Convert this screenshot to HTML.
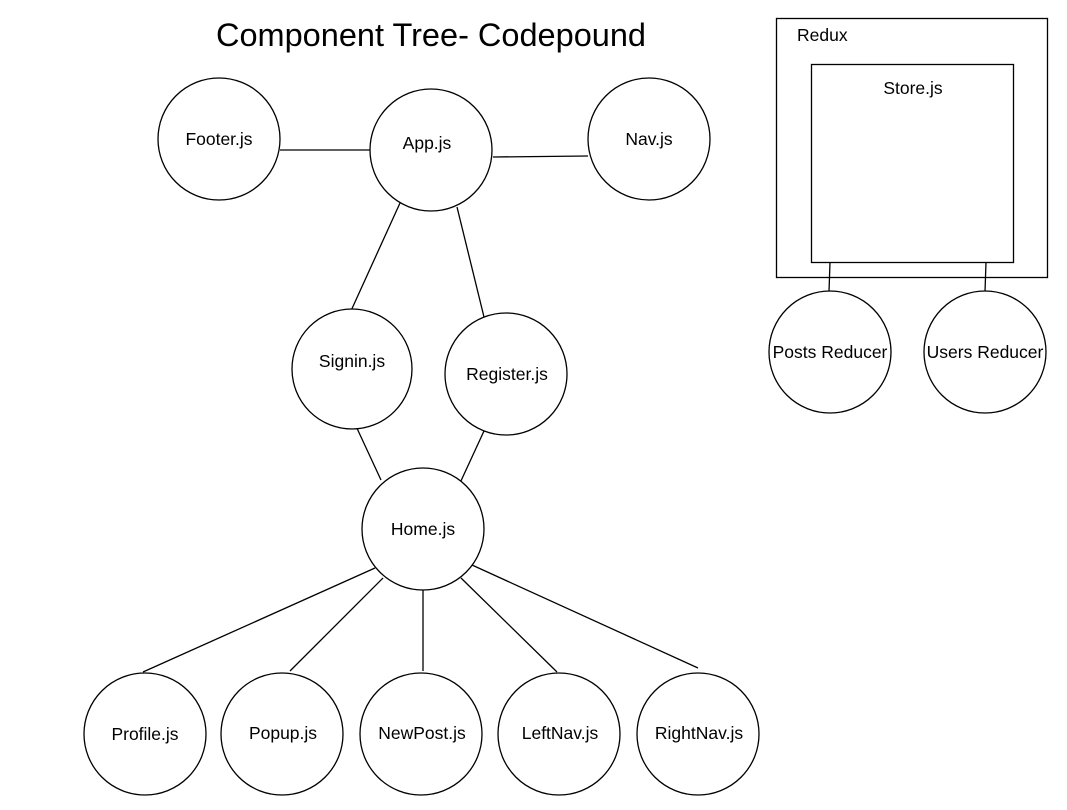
<!DOCTYPE html>
<html><head><meta charset="utf-8"><style>
html,body{margin:0;padding:0;background:#fff;}
svg{display:block;}
text{font-family:"Liberation Sans",Arial,sans-serif;fill:#000;}
</style></head><body>
<svg width="1067" height="810" viewBox="0 0 1067 810" xmlns="http://www.w3.org/2000/svg">
<rect width="1067" height="810" fill="#fff"/>
<text x="431" y="46" font-size="32.5" text-anchor="middle">Component Tree- Codepound</text>
<g stroke="#000" stroke-width="1.3" fill="none">
<rect x="776.5" y="18.5" width="271" height="259"/>
<rect x="811.5" y="64.5" width="202" height="198"/>
<line x1="280" y1="150" x2="370" y2="150"/>
<line x1="493" y1="157" x2="588" y2="156"/>
<line x1="400" y1="203" x2="350" y2="313"/>
<line x1="457" y1="207" x2="484" y2="317"/>
<line x1="355" y1="424" x2="381" y2="480"/>
<line x1="484" y1="431" x2="460" y2="483"/>
<line x1="375" y1="568" x2="143" y2="672"/>
<line x1="383" y1="578" x2="290" y2="671"/>
<line x1="423" y1="590" x2="423" y2="671"/>
<line x1="461" y1="578" x2="557" y2="672"/>
<line x1="472" y1="565" x2="698" y2="668"/>
<line x1="830" y1="262" x2="829" y2="292"/>
<line x1="986" y1="262" x2="985" y2="292"/>
<circle cx="219" cy="139" r="61" fill="#fff"/>
<circle cx="431" cy="150" r="61" fill="#fff"/>
<circle cx="649" cy="139" r="61" fill="#fff"/>
<circle cx="352" cy="369" r="60" fill="#fff"/>
<circle cx="506" cy="374" r="61" fill="#fff"/>
<circle cx="423" cy="529" r="61" fill="#fff"/>
<circle cx="145" cy="734" r="61" fill="#fff"/>
<circle cx="282" cy="734" r="61" fill="#fff"/>
<circle cx="421" cy="734" r="61" fill="#fff"/>
<circle cx="559" cy="734" r="61" fill="#fff"/>
<circle cx="698" cy="734" r="61" fill="#fff"/>
<circle cx="830" cy="352" r="61" fill="#fff"/>
<circle cx="985" cy="352" r="61" fill="#fff"/>
</g>
<g font-size="17.5" text-anchor="middle">
<text x="219" y="145">Footer.js</text>
<text x="427" y="149">App.js</text>
<text x="649" y="145">Nav.js</text>
<text x="352" y="367">Signin.js</text>
<text x="507" y="380">Register.js</text>
<text x="423" y="535">Home.js</text>
<text x="145" y="740">Profile.js</text>
<text x="283" y="739">Popup.js</text>
<text x="422" y="739">NewPost.js</text>
<text x="560" y="739">LeftNav.js</text>
<text x="699" y="739">RightNav.js</text>
<text x="830" y="358">Posts Reducer</text>
<text x="985" y="358">Users Reducer</text>
<text x="913" y="94">Store.js</text>
<text x="797" y="41" text-anchor="start">Redux</text>
</g>
</svg>
</body></html>
